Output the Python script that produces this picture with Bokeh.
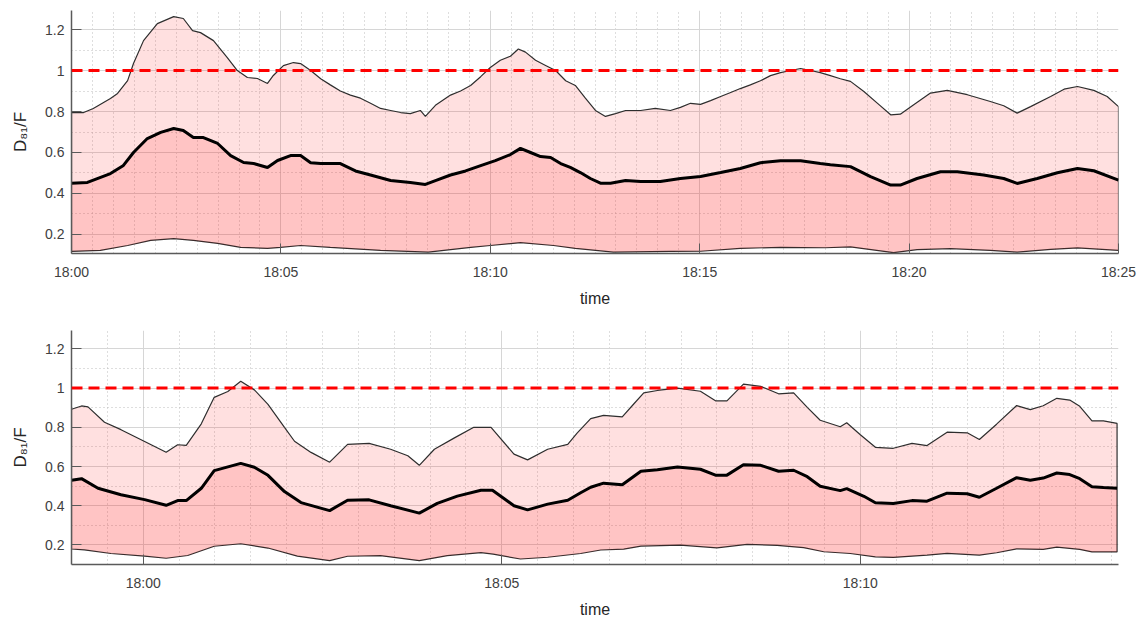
from bokeh.plotting import figure
from bokeh.models import FixedTicker, Span, Range1d
from bokeh.layouts import column
from bokeh.embed import file_html
from bokeh.resources import INLINE

# ---------------- data (minutes after 18:00) ----------------
# Top panel
top_up_t = [0.0, 0.29, 0.52, 0.93, 1.10, 1.34, 1.48, 1.72, 2.05, 2.44, 2.67, 2.89, 3.08, 3.39, 3.72,
            3.96, 4.20, 4.44, 4.68, 4.82, 5.06, 5.30, 5.47, 5.71, 5.95, 6.18, 6.42, 6.66, 6.90, 7.14,
            7.38, 7.62, 7.86, 8.09, 8.33, 8.45, 8.69, 9.05, 9.29, 9.53, 9.77, 10.00, 10.24, 10.48,
            10.67, 10.84, 11.08, 11.32, 11.56, 11.80, 12.03, 12.27, 12.51, 12.75, 12.99, 13.23, 13.59,
            13.94, 14.30, 14.54, 14.78, 15.02, 15.26, 15.50, 15.74, 15.97, 16.21, 16.45, 16.69, 16.93,
            17.17, 17.41, 17.65, 17.88, 18.12, 18.36, 18.60, 18.92, 19.24, 19.56, 19.79, 20.11, 20.51,
            20.91, 21.39, 21.94, 22.26, 22.58, 22.90, 23.38, 23.70, 24.02, 24.41, 24.73, 25.0]
top_up_v = [0.795, 0.795, 0.815, 0.863, 0.888, 0.951, 1.034, 1.146, 1.229, 1.263, 1.254, 1.195, 1.185,
            1.146, 1.063, 1.0, 0.966, 0.961, 0.937, 0.976, 1.024, 1.039, 1.034, 1.0, 0.96, 0.93, 0.90,
            0.88, 0.865, 0.84, 0.815, 0.805, 0.795, 0.79, 0.805, 0.776, 0.83, 0.88, 0.90, 0.927, 0.97,
            1.015, 1.05, 1.07, 1.105, 1.09, 1.05, 1.025, 1.0, 0.95, 0.927, 0.865, 0.805, 0.776, 0.79,
            0.805, 0.805, 0.815, 0.805, 0.82, 0.84, 0.835, 0.853, 0.873, 0.893, 0.912, 0.93, 0.95,
            0.975, 0.99, 1.0, 1.01, 1.0, 0.99, 0.975, 0.96, 0.947, 0.898, 0.841, 0.784, 0.787, 0.833,
            0.89, 0.903, 0.882, 0.849, 0.828, 0.792, 0.824, 0.873, 0.909, 0.922, 0.903, 0.873, 0.824]
top_mean_t = [0.0, 0.38, 0.93, 1.24, 1.48, 1.81, 2.13, 2.44, 2.67, 2.91, 3.15, 3.49, 3.80, 4.11, 4.35,
              4.68, 4.92, 5.23, 5.47, 5.71, 5.95, 6.42, 6.78, 7.14, 7.62, 8.09, 8.45, 8.69, 9.05, 9.41,
              9.77, 10.12, 10.48, 10.72, 10.96, 11.20, 11.44, 11.68, 11.91, 12.15, 12.39, 12.63, 12.87,
              13.23, 13.59, 14.06, 14.54, 15.02, 15.50, 15.97, 16.45, 16.93, 17.41, 17.88, 18.12, 18.60,
              19.08, 19.56, 19.79, 20.19, 20.75, 21.15, 21.78, 22.26, 22.58, 23.06, 23.54, 24.02, 24.41,
              25.0]
top_mean_v = [0.45, 0.454, 0.497, 0.537, 0.60, 0.668, 0.698, 0.717, 0.707, 0.673, 0.673, 0.644, 0.585,
              0.551, 0.546, 0.527, 0.561, 0.585, 0.585, 0.55, 0.546, 0.546, 0.51, 0.49, 0.463, 0.454,
              0.444, 0.463, 0.49, 0.51, 0.536, 0.56, 0.59, 0.62, 0.60, 0.58, 0.576, 0.546, 0.527, 0.502,
              0.473, 0.45, 0.45, 0.463, 0.458, 0.458, 0.473, 0.483, 0.502, 0.522, 0.55, 0.56, 0.56,
              0.546, 0.54, 0.531, 0.482, 0.441, 0.441, 0.473, 0.506, 0.506, 0.49, 0.473, 0.449, 0.473,
              0.501, 0.522, 0.511, 0.465]
top_low_t = [0.0, 0.69, 1.34, 1.89, 2.44, 2.91, 3.49, 4.04, 4.68, 4.99, 5.47, 6.18, 7.38, 8.52, 9.53,
             10.0, 10.72, 11.51, 12.03, 12.94, 14.30, 15.02, 15.97, 16.93, 18.0, 18.6, 19.63, 20.19,
             20.99, 21.94, 22.58, 23.38, 24.02, 25.0]
top_low_v = [0.117, 0.122, 0.146, 0.171, 0.18, 0.171, 0.156, 0.137, 0.132, 0.137, 0.146, 0.137, 0.122,
             0.114, 0.137, 0.146, 0.16, 0.146, 0.132, 0.114, 0.117, 0.118, 0.132, 0.137, 0.135, 0.139,
             0.111, 0.126, 0.131, 0.122, 0.114, 0.127, 0.134, 0.122]

# Bottom panel
bot_up_t = [-1.0, -0.86, -0.77, -0.54, -0.31, 0.02, 0.32, 0.48, 0.60, 0.81, 0.99, 1.18, 1.36, 1.55,
            1.74, 1.97, 2.11, 2.34, 2.60, 2.85, 3.15, 3.45, 3.69, 3.85, 4.06, 4.34, 4.61, 4.85, 5.17,
            5.36, 5.64, 5.92, 6.05, 6.24, 6.42, 6.68, 6.84, 6.98, 7.17, 7.45, 7.77, 7.98, 8.14, 8.37,
            8.61, 8.86, 9.07, 9.26, 9.44, 9.72, 9.81, 10.0, 10.21, 10.46, 10.72, 10.93, 11.21, 11.49,
            11.66, 11.90, 12.18, 12.37, 12.55, 12.74, 12.92, 13.06, 13.23, 13.39, 13.58]
bot_up_v = [0.892, 0.909, 0.904, 0.826, 0.788, 0.728, 0.673, 0.711, 0.708, 0.818, 0.953, 0.983, 1.035,
            0.991, 0.917, 0.80, 0.729, 0.672, 0.622, 0.713, 0.718, 0.688, 0.655, 0.606, 0.688, 0.746,
            0.80, 0.80, 0.663, 0.634, 0.688, 0.713, 0.77, 0.844, 0.861, 0.853, 0.919, 0.976, 0.988,
            1.0, 0.984, 0.935, 0.935, 1.02, 1.009, 0.971, 0.976, 0.902, 0.836, 0.803, 0.823, 0.762,
            0.698, 0.693, 0.718, 0.707, 0.775, 0.772, 0.738, 0.816, 0.911, 0.89, 0.91, 0.948, 0.939,
            0.907, 0.833, 0.833, 0.82]
bot_mean_t = [-1.0, -0.86, -0.63, -0.31, 0.02, 0.32, 0.48, 0.60, 0.81, 0.99, 1.36, 1.55, 1.74, 1.97,
              2.20, 2.60, 2.85, 3.15, 3.45, 3.85, 4.10, 4.38, 4.71, 4.87, 5.17, 5.36, 5.64, 5.92, 6.10,
              6.24, 6.42, 6.68, 6.94, 7.17, 7.45, 7.77, 7.98, 8.14, 8.37, 8.61, 8.86, 9.07, 9.26, 9.44,
              9.72, 9.81, 10.05, 10.21, 10.46, 10.72, 10.93, 11.21, 11.49, 11.66, 11.90, 12.18, 12.37,
              12.55, 12.74, 12.92, 13.06, 13.23, 13.39, 13.58]
bot_mean_v = [0.53, 0.538, 0.489, 0.456, 0.431, 0.402, 0.426, 0.426, 0.489, 0.579, 0.616, 0.596, 0.555,
              0.472, 0.416, 0.375, 0.428, 0.430, 0.40, 0.362, 0.412, 0.449, 0.479, 0.479, 0.40, 0.379,
              0.408, 0.428, 0.466, 0.494, 0.515, 0.507, 0.576, 0.584, 0.597, 0.586, 0.556, 0.556, 0.609,
              0.606, 0.576, 0.581, 0.548, 0.499, 0.477, 0.487, 0.448, 0.415, 0.411, 0.426, 0.423, 0.464,
              0.461, 0.443, 0.489, 0.543, 0.53, 0.541, 0.567, 0.559, 0.538, 0.497, 0.493, 0.489]
bot_low_t = [-1.0, -0.82, -0.45, 0.02, 0.32, 0.62, 0.99, 1.36, 1.74, 2.15, 2.60, 2.85, 3.31, 3.85,
             4.24, 4.71, 4.88, 5.26, 5.64, 6.10, 6.38, 6.70, 6.94, 7.49, 8.0, 8.42, 8.84, 9.21, 9.49,
             9.86, 10.21, 10.46, 10.93, 11.21, 11.66, 11.90, 12.18, 12.55, 12.74, 13.06, 13.23, 13.58]
bot_low_v = [0.179, 0.175, 0.156, 0.143, 0.132, 0.146, 0.193, 0.206, 0.184, 0.143, 0.12, 0.142, 0.145,
             0.12, 0.145, 0.161, 0.153, 0.128, 0.137, 0.156, 0.174, 0.178, 0.194, 0.199, 0.185, 0.203,
             0.198, 0.186, 0.165, 0.156, 0.139, 0.136, 0.148, 0.157, 0.148, 0.16, 0.18, 0.177, 0.189,
             0.177, 0.164, 0.164]

threshold = 1.0

top_xticks = [0, 5, 10, 15, 20, 25]
top_xlabels = ["18:00", "18:05", "18:10", "18:15", "18:20", "18:25"]
bot_xticks = [0, 5, 10]
bot_xlabels = ["18:00", "18:05", "18:10"]
yticks = [0.2, 0.4, 0.6, 0.8, 1.0, 1.2]
ylabels = ["0.2", "0.4", "0.6", "0.8", "1", "1.2"]
y_minor = [0.3, 0.5, 0.7, 0.9, 1.1]

FONT = "Liberation Sans"
AX = "#5a5a5a"
TXT = "#404040"


def make_panel(width, height, borders, xr, yr, xticks, xlabels, up_t, up_v, mean_t, mean_v, low_t, low_v):
    bl, br, bt, bb = borders
    p = figure(width=width, height=height, output_backend="svg", toolbar_location=None,
               x_range=Range1d(*xr), y_range=Range1d(*yr),
               min_border_left=bl, min_border_right=br, min_border_top=bt, min_border_bottom=bb)
    p.outline_line_color = None
    p.background_fill_color = "white"
    p.border_fill_color = "white"

    # minor x ticks every 30 s, excluding majors
    minor_x = []
    k = int(xr[0] * 2)
    while k / 2 <= xr[1]:
        v = k / 2
        if v not in xticks:
            minor_x.append(v)
        k += 1
    p.xaxis.ticker = FixedTicker(ticks=xticks, minor_ticks=minor_x)
    p.xaxis.major_label_overrides = {t: l for t, l in zip(xticks, xlabels)}
    p.yaxis.ticker = FixedTicker(ticks=yticks, minor_ticks=y_minor)
    p.yaxis.major_label_overrides = {t: l for t, l in zip(yticks, ylabels)}

    for ax in (p.xaxis, p.yaxis):
        ax.axis_line_color = AX
        ax.axis_line_width = 1.5
        ax.major_tick_line_color = AX
        ax.major_tick_in = 10
        ax.major_tick_out = 0
        ax.minor_tick_in = 0
        ax.minor_tick_out = 0
        ax.major_label_text_font = FONT
        ax.major_label_text_font_size = "14px"
        ax.major_label_text_color = TXT
        ax.axis_label_text_font = FONT
        ax.axis_label_text_font_style = "normal"
        ax.axis_label_text_color = "#262626"

    p.xaxis.axis_label = "time"
    p.xaxis.axis_label_text_font_size = "16px"
    p.xaxis.major_label_standoff = 10
    p.xaxis.axis_label_standoff = 7
    p.yaxis.axis_label = "D\u2088\u2081/F"
    p.yaxis.axis_label_text_font_size = "17px"
    p.yaxis.major_label_standoff = 7
    p.yaxis.axis_label_standoff = 12

    for g in (p.xgrid, p.ygrid):
        g.grid_line_color = "#d6d6d6"
        g.grid_line_width = 1
        g.minor_grid_line_color = "#bdbdbd"
        g.minor_grid_line_dash = "1 3"
        g.minor_grid_line_width = 1

    # outer band: lower -> upper
    p.patch(up_t + low_t[::-1], up_v + low_v[::-1], fill_color="#ff0000", fill_alpha=0.12,
            line_color="#2e2e2e", line_width=1.2)
    # inner band: lower -> mean
    p.patch(mean_t + low_t[::-1], mean_v + low_v[::-1], fill_color="#ff0000", fill_alpha=0.12,
            line_color=None)
    p.line(mean_t, mean_v, line_color="black", line_width=3)

    p.add_layout(Span(location=threshold, dimension="width", line_color="#ff0000",
                      line_width=3, line_dash="11 6"))
    return p


p1 = make_panel(1140, 310, (71, 22, 10, 57), (0, 25), (0.107, 1.293), top_xticks, top_xlabels,
                top_up_t, top_up_v, top_mean_t, top_mean_v, top_low_t, top_low_v)
p2 = make_panel(1140, 310, (71, 20, 20, 48), (-1.0, 13.6), (0.10, 1.294), bot_xticks, bot_xlabels,
                bot_up_t, bot_up_v, bot_mean_t, bot_mean_v, bot_low_t, bot_low_v)

layout = column(p1, p2, spacing=0)
open("out.html", "w").write(file_html(layout, INLINE))
